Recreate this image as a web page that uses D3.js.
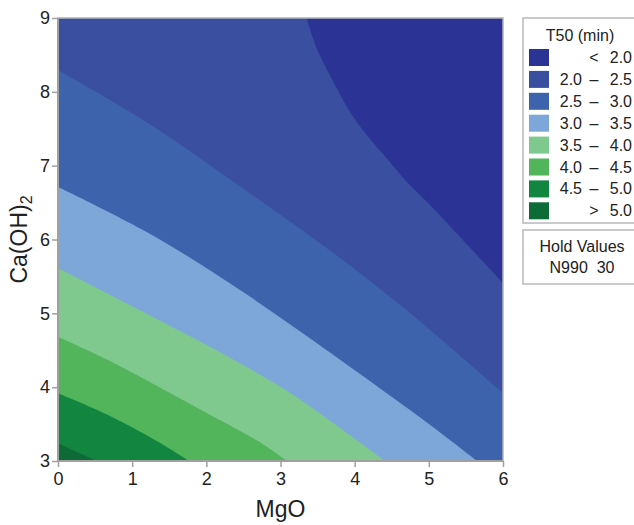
<!DOCTYPE html>
<html>
<head>
<meta charset="utf-8">
<script src="https://cdn.jsdelivr.net/npm/d3@7"></script>
<style>
  body { margin: 0; background: #fff; }
  svg text { font-family: "Liberation Sans", Arial, sans-serif; fill: #222; }
</style>
</head>
<body>
<div id="contour-chart"></div>
<script>
// Contour levels and legend
const levels = [2.0, 2.5, 3.0, 3.5, 4.0, 4.5, 5.0];
const bandColors = ["#2b3494", "#3a4fa0", "#3e63ad", "#7da7d9", "#80c98e", "#52b45b", "#128541", "#0e6a36"];
const bandLabels = [
  ["", "<", "2.0"], ["2.0", "–", "2.5"], ["2.5", "–", "3.0"], ["3.0", "–", "3.5"],
  ["3.5", "–", "4.0"], ["4.0", "–", "4.5"], ["4.5", "–", "5.0"], ["", ">", "5.0"]
];
const xTicks = [0, 1, 2, 3, 4, 5, 6];
const yTicks = [3, 4, 5, 6, 7, 8, 9];

// Contour lines, [MgO, Ca(OH)2]
const line2_0 = [[3.353, 9], [3.488, 8.59], [3.712, 8.138], [3.937, 7.731], [4.162, 7.415], [4.432, 7.1], [4.701, 6.783], [4.993, 6.49], [6, 5.411]];
const line2_5 = [[0, 8.296], [1.213, 7.578], [2.427, 6.738], [3.532, 5.952], [4.166, 5.47], [4.746, 5.004], [6, 3.921]];
const line3_0 = [[0, 6.711], [1.146, 6.128], [2.373, 5.37], [4.746, 3.69], [5.649, 3]];
const line3_5 = [[0, 5.614], [1.618, 4.774], [2.247, 4.44], [2.921, 4.052], [3.371, 3.758], [4.409, 3]];
const line4_0 = [[0, 4.683], [0.674, 4.368], [1.348, 4.01], [2.022, 3.64], [2.696, 3.27], [3.087, 3]];
const line4_5 = [[0, 3.917], [0.674, 3.623], [1.348, 3.262], [1.77, 3]];
const line5_0 = [[0, 3.239], [0.52, 3]];
const contourLines = [line2_0, line2_5, line3_0, line3_5, line4_0, line4_5, line5_0];

const holdLabel = "Hold Values";
const holdValue = ["N990", "30"];

const width = 634, height = 525;
const margin = {top: 18, right: 131, bottom: 64, left: 58};
const innerWidth = width - margin.left - margin.right;
const innerHeight = height - margin.top - margin.bottom;

const svg = d3.select("#contour-chart")
  .append("svg")
    .attr("width", width)
    .attr("height", height);

const xScale = d3.scaleLinear().domain([0, 6]).range([0, innerWidth]);
const yScale = d3.scaleLinear().domain([3, 9]).range([innerHeight, 0]);

svg.append("clipPath").attr("id", "plot-clip")
  .append("rect").attr("width", innerWidth).attr("height", innerHeight);

const innerChart = svg.append("g")
  .attr("transform", `translate(${margin.left}, ${margin.top})`);

const bands = innerChart.append("g").attr("clip-path", "url(#plot-clip)");

// Background = highest band (> 5.0)
bands.append("rect")
  .attr("width", innerWidth)
  .attr("height", innerHeight)
  .attr("fill", bandColors[bandColors.length - 1]);

const lineGenerator = d3.line()
  .x(d => xScale(d[0]))
  .y(d => yScale(d[1]))
  .curve(d3.curveCatmullRom);

// Close each line through the top-right corners: that side has the lower T50
const [x0, x1] = xScale.domain();
const [y0, y1] = yScale.domain();
const closingCorners = (pts) => {
  const start = pts[0], end = pts[pts.length - 1];
  const corners = [];
  if (end[1] === y0) corners.push([x1, y0]);
  corners.push([x1, y1]);
  if (start[0] === x0) corners.push([x0, y1]);
  return corners;
};

// Paint from high to low so each region below a level sits on top
for (let i = levels.length - 1; i >= 0; i--) {
  const pts = contourLines[i];
  const tail = closingCorners(pts).map(c => `L${xScale(c[0])},${yScale(c[1])}`).join("");
  bands.append("path")
    .attr("d", lineGenerator(pts) + tail + "Z")
    .attr("fill", bandColors[i]);
}

// Frame
innerChart.append("rect")
  .attr("width", innerWidth)
  .attr("height", innerHeight)
  .attr("fill", "none")
  .attr("stroke", "#b4b4b4")
  .attr("stroke-width", 1.5);
innerChart.append("line")
  .attr("x1", 0).attr("x2", 0).attr("y1", 0).attr("y2", innerHeight)
  .attr("stroke", "#a0a0a0").attr("stroke-width", 2);
innerChart.append("line")
  .attr("x1", 0).attr("x2", innerWidth).attr("y1", innerHeight).attr("y2", innerHeight)
  .attr("stroke", "#a0a0a0").attr("stroke-width", 2);

// Axes
const bottomAxis = d3.axisBottom(xScale).tickValues(xTicks).tickFormat(d3.format("d"))
  .tickSize(6).tickSizeOuter(0).tickPadding(5);
innerChart.append("g")
  .attr("class", "axis-x")
  .attr("transform", `translate(0, ${innerHeight})`)
  .call(bottomAxis);

const leftAxis = d3.axisLeft(yScale).tickValues(yTicks).tickFormat(d3.format("d"))
  .tickSize(6).tickSizeOuter(0).tickPadding(2);
innerChart.append("g")
  .attr("class", "axis-y")
  .call(leftAxis);

d3.selectAll(".axis-x path, .axis-y path").remove();
d3.selectAll(".axis-x line, .axis-y line").attr("stroke", "#a0a0a0").attr("stroke-width", 1.5);
d3.selectAll(".axis-x text, .axis-y text")
  .style("font-size", "18px")
  .attr("fill", "#222");

// Axis titles
svg.append("text")
  .attr("x", margin.left + innerWidth / 2)
  .attr("y", 517)
  .attr("text-anchor", "middle")
  .style("font-size", "23px")
  .text("MgO");

const yTitle = svg.append("text")
  .attr("transform", `translate(27, ${margin.top + innerHeight / 2}) rotate(-90)`)
  .attr("text-anchor", "middle")
  .style("font-size", "23px");
yTitle.append("tspan").text("Ca(OH)");
yTitle.append("tspan").attr("dy", 5).style("font-size", "16px").text("2");

// Legend
const legend = svg.append("g").attr("transform", "translate(523, 18)");
legend.append("rect")
  .attr("width", 130).attr("height", 205)
  .attr("fill", "#fff").attr("stroke", "#b9b9b9").attr("stroke-width", 1.5);
legend.append("text")
  .attr("x", 57).attr("y", 23)
  .attr("text-anchor", "middle")
  .style("font-size", "16px")
  .text("T50 (min)");

const rows = legend.selectAll("g.row")
  .data(bandLabels)
  .join("g")
    .attr("class", "row")
    .attr("transform", (d, i) => `translate(0, ${31 + i * 21.9})`);
rows.append("rect")
  .attr("x", 6).attr("width", 20).attr("height", 17)
  .attr("fill", (d, i) => bandColors[i]);
rows.append("text")
  .attr("x", 59).attr("y", 14)
  .attr("text-anchor", "end")
  .style("font-size", "16px")
  .text(d => d[0]);
rows.append("text")
  .attr("x", 71).attr("y", 14)
  .attr("text-anchor", "middle")
  .style("font-size", "16px")
  .text(d => d[1]);
rows.append("text")
  .attr("x", 109).attr("y", 14)
  .attr("text-anchor", "end")
  .style("font-size", "16px")
  .text(d => d[2]);

// Hold values box
const hold = svg.append("g").attr("transform", "translate(523, 230)");
hold.append("rect")
  .attr("width", 130).attr("height", 54)
  .attr("fill", "#fff").attr("stroke", "#b9b9b9").attr("stroke-width", 1.5);
hold.append("text")
  .attr("x", 59).attr("y", 22)
  .attr("text-anchor", "middle")
  .style("font-size", "16px")
  .text(holdLabel);
hold.append("text")
  .attr("x", 59).attr("y", 43)
  .attr("text-anchor", "middle")
  .style("font-size", "16px")
  .attr("xml:space", "preserve")
  .text(holdValue.join("  "));
</script>
</body>
</html>
